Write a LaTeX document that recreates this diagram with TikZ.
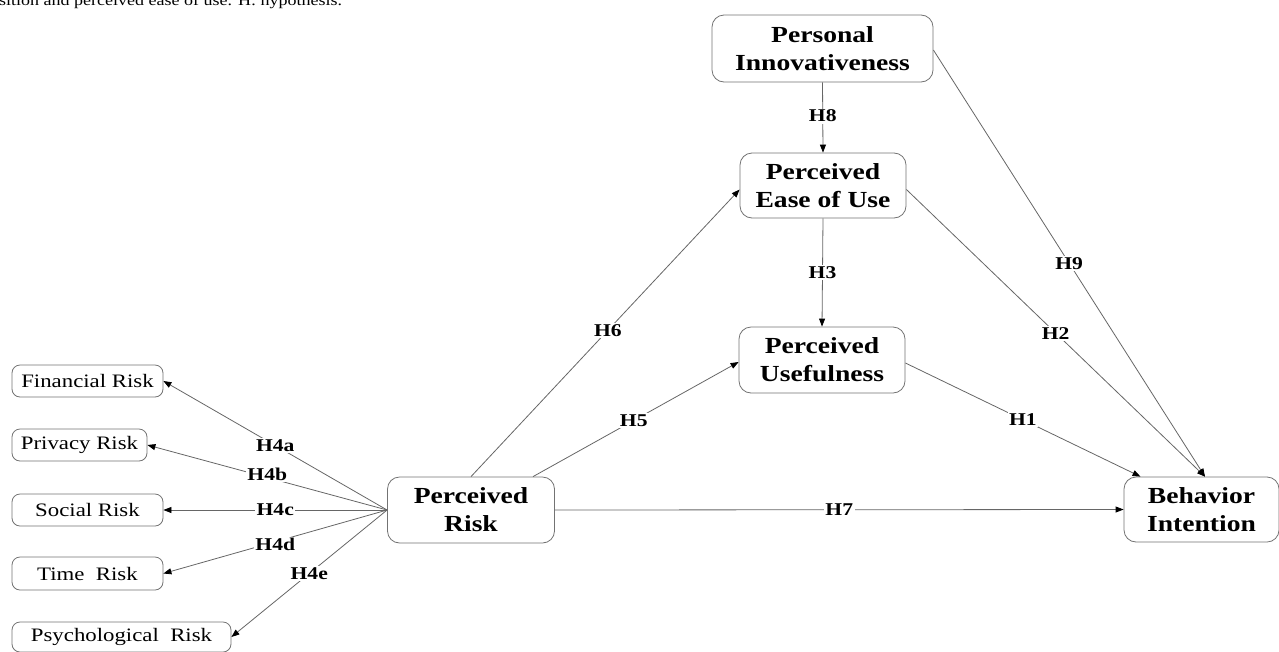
\documentclass[tikz,border=0pt]{standalone}
\usepackage{fontspec}
\newfontfamily\tnr[FakeStretch=1.2]{Liberation Serif}
\usetikzlibrary{arrows.meta}
\tikzset{
  bigbox/.style={draw=black!55, line width=0.8pt, rounded corners=12pt, fill=white,
    align=center, inner sep=0pt, font=\tnr\fontsize{23}{28}\selectfont\bfseries},
  riskbox/.style={draw=black!55, line width=0.8pt, rounded corners=8pt, fill=white,
    inner sep=0pt, font=\tnr\fontsize{19}{22}\selectfont},
  conn/.style={draw=black!60, line width=0.8pt, -{Triangle[length=8pt,width=6pt,color=black]}},
  hlab/.style={fill=white, inner sep=1.5pt, font=\tnr\fontsize{18}{20}\selectfont\bfseries}
}
\begin{document}
\begin{tikzpicture}[x=1pt,y=-1pt]
\useasboundingbox (0,0) rectangle (1279,651);
\node[anchor=base west, inner sep=0pt, font=\tnr\fontsize{15}{18}\selectfont] (cap) at (-1,5) {sition and perceived ease of use. H: hypothesis.};

\node[bigbox, minimum width=221pt, minimum height=67pt] (PI) at (822.5,48.5) {Personal\\Innovativeness};
\node[bigbox, minimum width=166pt, minimum height=65pt] (PEOU) at (823,185.5) {Perceived\\Ease of Use};
\node[bigbox, minimum width=166pt, minimum height=66pt] (PU) at (822,360) {Perceived\\Usefulness};
\node[bigbox, minimum width=167pt, minimum height=66pt] (PR) at (471,510) {Perceived\\Risk};
\node[bigbox, minimum width=155pt, minimum height=65pt] (BI) at (1201.5,509.5) {Behavior\\Intention};

\node[riskbox, minimum width=151pt, minimum height=32pt] (FR) at (87.5,381) {Financial Risk};
\node[riskbox, minimum width=135pt, minimum height=32pt] (PV) at (79.5,445) {Privacy Risk};
\node[riskbox, minimum width=151pt, minimum height=32pt] (SR) at (87.5,510) {Social Risk};
\node[riskbox, minimum width=151pt, minimum height=33pt] (TR) at (87.5,573.5) {Time\ \ Risk};
\node[riskbox, minimum width=219pt, minimum height=30pt] (PS) at (121.5,637) {Psychological\ \ Risk};

\draw[conn] (PR.west) -- node[hlab, pos=0.5] {H4a} (FR.east);
\draw[conn] (PR.west) -- node[hlab, pos=0.5, yshift=3pt] {H4b} (PV.east);
\draw[conn] (PR.west) -- node[hlab, pos=0.5] {H4c} (SR.east);
\draw[conn] (PR.west) -- node[hlab, pos=0.5, yshift=-3pt] {H4d} (TR.east);
\draw[conn] (PR.west) -- node[hlab, pos=0.5] {H4e} (PS.east);

\draw[conn] (PR.north) -- node[hlab, pos=0.51] {H6} ([yshift=-4pt]PEOU.west);
\draw[conn] ([xshift=62pt]PR.north) -- node[hlab, pos=0.49] {H5} ([yshift=-2pt]PU.west);
\draw[conn] (PR.east) -- node[hlab, pos=0.5] {H7} (BI.west);
\draw[conn] (PI.south) -- node[hlab, pos=0.48] {H8} (PEOU.north);
\draw[conn] (PEOU.south) -- node[hlab, pos=0.5] {H3} (PU.north);
\draw[conn] ([yshift=-3pt]PU.east) -- node[hlab, pos=0.5] {H1} ([xshift=-61pt]BI.north);
\draw[conn] ([yshift=-4pt]PEOU.east) -- node[hlab, pos=0.5] {H2} ([xshift=3.5pt]BI.north);
\draw[conn] ([yshift=-1.5pt]PI.east) -- node[hlab, pos=0.5] {H9} ([xshift=3.5pt]BI.north);
\end{tikzpicture}
\end{document}
